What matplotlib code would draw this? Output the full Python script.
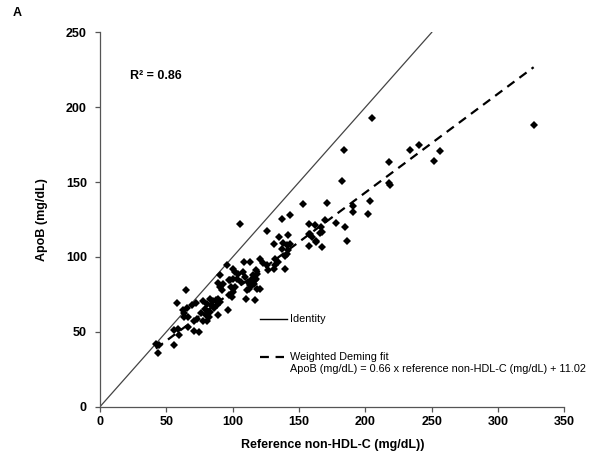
import matplotlib as mpl
import matplotlib.pyplot as plt
import numpy as np

mpl.use("Agg")

plt.rcParams["font.family"] = ["Liberation Sans", "DejaVu Sans"]

# reference non-HDL-C (mg/dL) vs ApoB (mg/dL)
ref_nonhdl = [
    42.0, 43.5, 44.7, 56.0, 59.8, 56.0, 58.6, 66.6, 70.9, 74.4,
    64.6, 58.2, 62.8, 65.4, 63.3, 66.1, 69.2, 72.4, 71.1, 72.9,
    77.9, 79.2, 79.9, 81.7, 80.5, 83.5, 85.0, 87.0, 86.0, 88.0,
    89.2, 90.5, 91.8, 93.0, 90.0, 95.5, 96.3, 99.3, 100.5, 103.1,
    98.0, 100.0,
    105.1, 152.6, 171.0, 182.7, 191.0, 203.6, 201.6, 143.3, 137.0, 125.7,
    157.1, 162.1, 169.7, 177.7, 184.8, 186.0, 167.2, 158.4, 163.0, 167.2,
    157.1, 134.5, 130.7, 138.2, 140.8, 142.0, 137.0, 120.7, 108.1, 113.1,
    131.9, 134.0, 139.0, 139.5, 130.7, 126.9, 117.6, 115.2, 120.7, 118.2,
    110.1, 116.9, 111.8, 114.4, 109.4, 101.8, 96.8, 106.3, 104.3,
    205.3, 184.2, 217.4, 233.8, 240.6, 256.4, 251.4, 217.4, 218.7, 190.6,
    166.7, 165.9, 157.8, 159.6, 162.9, 326.8,
    141.3, 143.3, 140.8, 107.6, 118.2, 116.9, 113.6, 100.5, 89.2, 96.8,
    98.5, 101.8, 80.5, 83.0, 63.6, 76.2, 88.5, 90.0, 83.0, 77.9,
    116.2, 113.1, 112.0, 110.6, 117.6, 123.1, 125.7, 132.0,
]
apob = [
    41.7, 35.9, 41.0, 40.8, 47.5, 51.0, 51.7, 53.2, 50.3, 49.7,
    78.1, 69.5, 64.3, 66.1, 59.5, 59.5, 67.7, 69.5, 57.2, 58.8,
    70.3, 65.5, 61.0, 59.5, 57.2, 67.7, 70.3, 71.5, 66.1, 67.7,
    61.0, 79.9, 77.7, 82.1, 87.7, 94.3, 64.3, 73.2, 91.7, 85.4,
    84.8, 76.5,
    122.1, 135.0, 135.9, 150.5, 133.7, 137.0, 128.8, 128.1, 125.0, 117.0,
    122.1, 121.0, 124.8, 122.7, 119.9, 110.3, 116.5, 115.4, 110.3, 106.5,
    107.0, 113.2, 108.8, 109.2, 107.7, 104.3, 105.4, 98.3, 96.5, 96.5,
    98.3, 96.5, 100.3, 91.7, 92.1, 91.0, 91.4, 87.7, 78.8, 78.8,
    72.1, 71.4, 83.2, 81.4, 86.5, 89.8, 74.3, 83.2, 88.8,
    192.8, 171.5, 163.7, 171.5, 174.8, 171.0, 163.9, 149.2, 147.7, 129.9,
    119.9, 115.9, 115.0, 113.2, 109.9, 188.3,
    114.3, 108.8, 102.1, 89.9, 88.8, 84.3, 84.3, 85.5, 82.5, 84.3,
    79.9, 79.9, 68.8, 72.1, 62.8, 62.8, 72.1, 69.9, 63.2, 57.2,
    82.1, 80.9, 78.8, 78.1, 85.4, 95.9, 94.3, 94.3,
]

# weighted Deming fit
slope = 0.66
intercept = 11.02

x_ticks = [0, 50, 100, 150, 200, 250, 300, 350]
y_ticks = [0, 50, 100, 150, 200, 250]


def main():
    fig = plt.figure(figsize=(5.96, 4.62), dpi=100)
    ax = fig.add_axes([0.168, 0.120, 0.779, 0.810])

    # identity line
    ax.plot([0, 250], [0, 250], color="#444444", lw=0.9)

    # Deming fit line over the data range
    xf = np.array([min(ref_nonhdl), max(ref_nonhdl)])
    ax.plot(xf, slope * xf + intercept, color="black", lw=1.6,
            dashes=(4, 2.8))

    ax.plot(ref_nonhdl, apob, "D", color="black", markersize=3.8,
            markeredgewidth=0)

    ax.set_xlim(0, 350)
    ax.set_ylim(0, 250)
    ax.set_xticks(x_ticks)
    ax.set_yticks(y_ticks)
    for spine in ["top", "right"]:
        ax.spines[spine].set_visible(False)
    for spine in ["left", "bottom"]:
        ax.spines[spine].set_color("#555555")
        ax.spines[spine].set_linewidth(0.9)
    ax.tick_params(direction="out", length=3.5, width=0.9, color="#555555",
                   labelsize=9)
    ax.tick_params(axis="y", pad=6)
    ax.tick_params(axis="x", pad=3)
    for lab in ax.get_xticklabels() + ax.get_yticklabels():
        lab.set_fontweight("bold")

    ax.set_xlabel("Reference non-HDL-C (mg/dL))", fontsize=9,
                  fontweight="bold", labelpad=8)
    ax.set_ylabel("ApoB (mg/dL)", fontsize=9, fontweight="bold",
                  labelpad=13)

    fig.text(0.021, 0.972, "A", fontsize=9, fontweight="bold",
             va="center", ha="left")
    ax.text(0.065, 0.884, "R\u00b2 = 0.86", transform=ax.transAxes,
            fontsize=9, fontweight="bold", va="center", ha="left")

    # hand-placed legend
    ax.plot([0.345, 0.403], [0.234, 0.234], transform=ax.transAxes,
            color="black", lw=1.0)
    ax.text(0.409, 0.234, "Identity", transform=ax.transAxes,
            fontsize=7.8, va="center", ha="left")
    ax.plot([0.345, 0.396], [0.132, 0.132], transform=ax.transAxes,
            color="black", lw=1.6, dashes=(4, 3))
    ax.text(0.409, 0.132, "Weighted Deming fit", transform=ax.transAxes,
            fontsize=7.8, va="center", ha="left")
    ax.text(0.409, 0.100,
            "ApoB (mg/dL) = 0.66 x reference non-HDL-C (mg/dL) + 11.02",
            transform=ax.transAxes, fontsize=7.8, va="center", ha="left")

    plt.savefig("out.png", dpi=100)


if __name__ == "__main__":
    main()
